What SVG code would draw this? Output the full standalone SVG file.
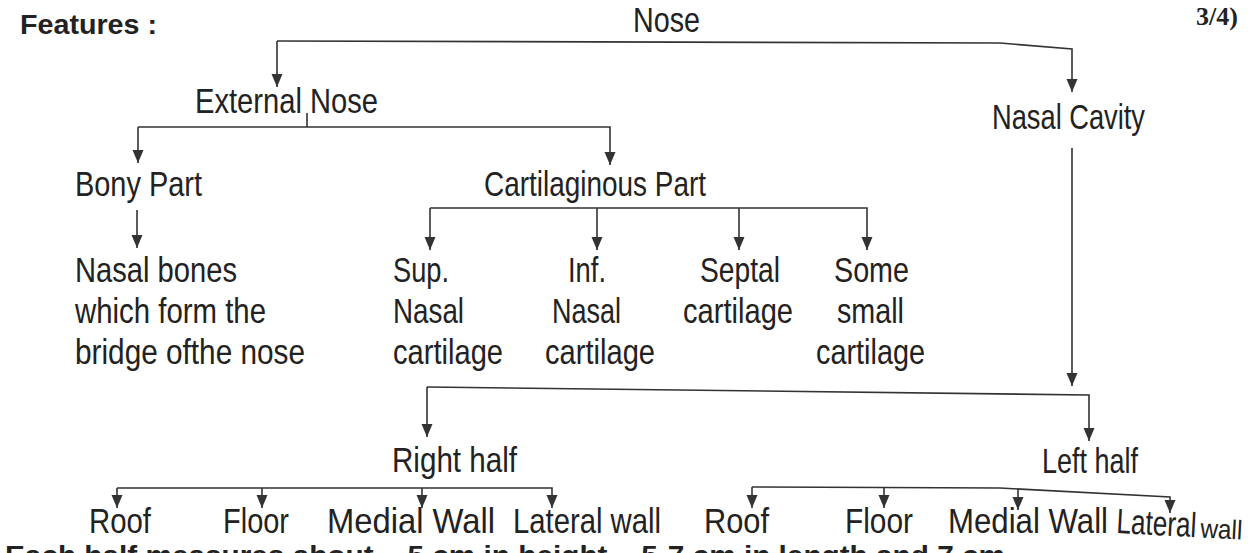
<svg xmlns="http://www.w3.org/2000/svg" width="1254" height="553" viewBox="0 0 1254 553">
<style>
.t{font-family:"Liberation Sans",Arial,sans-serif;font-size:35px;fill:#222}
.b{font-family:"Liberation Sans",Arial,sans-serif;font-weight:bold;font-size:28px;fill:#222}
.c{fill:none;stroke:#333;stroke-width:1.6}
</style>
<defs>
<marker id="ah" viewBox="0 -6 13 12" refX="13" refY="0" markerWidth="13" markerHeight="12" markerUnits="userSpaceOnUse" orient="auto">
<path d="M0,-5.5 L13,0 L0,5.5 z" fill="#333"/>
</marker>
</defs>
<rect width="1254" height="553" fill="#fff"/>
<g id="header">
<text class="b" x="20" y="34" textLength="137" lengthAdjust="spacingAndGlyphs">Features :</text>
<text x="1196" y="25" font-family="'Liberation Serif',serif" font-weight="bold" font-size="26" fill="#222">3/4)</text>
</g>
<g id="connectors">
<polyline class="c" points="277,41 1000,43 1072,49 1072,92" marker-end="url(#ah)"/>
<line class="c" x1="277" y1="41" x2="277" y2="87" marker-end="url(#ah)"/>
<polyline class="c" points="138,127 610,127 610,165" marker-end="url(#ah)"/>
<line class="c" x1="138" y1="127" x2="138" y2="163" marker-end="url(#ah)"/>
<line class="c" x1="307" y1="113" x2="307" y2="127"/>
<line class="c" x1="137" y1="210" x2="137" y2="248" marker-end="url(#ah)"/>
<polyline class="c" points="430,208 867,208 867,250" marker-end="url(#ah)"/>
<line class="c" x1="430" y1="208" x2="430" y2="250" marker-end="url(#ah)"/>
<line class="c" x1="597" y1="208" x2="597" y2="250" marker-end="url(#ah)"/>
<line class="c" x1="739" y1="208" x2="739" y2="250" marker-end="url(#ah)"/>
<line class="c" x1="1072" y1="148" x2="1072" y2="386" marker-end="url(#ah)"/>
<polyline class="c" points="427,387 1089,395 1089,441" marker-end="url(#ah)"/>
<line class="c" x1="427" y1="387" x2="427" y2="437" marker-end="url(#ah)"/>
<polyline class="c" points="117,488 552,488 552,508" marker-end="url(#ah)"/>
<line class="c" x1="117" y1="488" x2="117" y2="508" marker-end="url(#ah)"/>
<line class="c" x1="262" y1="488" x2="262" y2="508" marker-end="url(#ah)"/>
<line class="c" x1="422" y1="488" x2="422" y2="508" marker-end="url(#ah)"/>
<polyline class="c" points="752,487 1000,488 1170,497 1170,513" marker-end="url(#ah)"/>
<line class="c" x1="752" y1="487" x2="752" y2="508" marker-end="url(#ah)"/>
<line class="c" x1="884" y1="487" x2="884" y2="508" marker-end="url(#ah)"/>
<line class="c" x1="1018" y1="489" x2="1018" y2="510" marker-end="url(#ah)"/>
</g>
<g id="nose"><text class="t" x="633" y="32" textLength="67" lengthAdjust="spacingAndGlyphs">Nose</text></g>
<g id="external-nose"><text class="t" x="195" y="113" textLength="183" lengthAdjust="spacingAndGlyphs">External Nose</text></g>
<g id="nasal-cavity"><text class="t" x="992" y="129" textLength="153" lengthAdjust="spacingAndGlyphs">Nasal Cavity</text></g>
<g id="bony-part"><text class="t" x="75" y="196" textLength="127" lengthAdjust="spacingAndGlyphs">Bony Part</text></g>
<g id="cartilaginous-part"><text class="t" x="484" y="196" textLength="222" lengthAdjust="spacingAndGlyphs">Cartilaginous Part</text></g>
<g id="nasal-bones">
<text class="t" x="75" y="282" textLength="162" lengthAdjust="spacingAndGlyphs">Nasal bones</text>
<text class="t" x="75" y="323" textLength="191" lengthAdjust="spacingAndGlyphs">which form the</text>
<text class="t" x="75" y="364" textLength="230" lengthAdjust="spacingAndGlyphs">bridge ofthe nose</text>
</g>
<g id="sup-nasal">
<text class="t" x="393" y="282" textLength="56" lengthAdjust="spacingAndGlyphs">Sup.</text>
<text class="t" x="393" y="323" textLength="71" lengthAdjust="spacingAndGlyphs">Nasal</text>
<text class="t" x="393" y="364" textLength="110" lengthAdjust="spacingAndGlyphs">cartilage</text>
</g>
<g id="inf-nasal">
<text class="t" x="568" y="282" textLength="38" lengthAdjust="spacingAndGlyphs">Inf.</text>
<text class="t" x="552" y="323" textLength="69" lengthAdjust="spacingAndGlyphs">Nasal</text>
<text class="t" x="545" y="364" textLength="110" lengthAdjust="spacingAndGlyphs">cartilage</text>
</g>
<g id="septal">
<text class="t" x="700" y="282" textLength="80" lengthAdjust="spacingAndGlyphs">Septal</text>
<text class="t" x="683" y="323" textLength="110" lengthAdjust="spacingAndGlyphs">cartilage</text>
</g>
<g id="some-small">
<text class="t" x="834" y="282" textLength="75" lengthAdjust="spacingAndGlyphs">Some</text>
<text class="t" x="837" y="323" textLength="67" lengthAdjust="spacingAndGlyphs">small</text>
<text class="t" x="816" y="364" textLength="109" lengthAdjust="spacingAndGlyphs">cartilage</text>
</g>
<g id="right-half"><text class="t" x="392" y="472" textLength="125" lengthAdjust="spacingAndGlyphs">Right half</text></g>
<g id="left-half"><text class="t" x="1042" y="473" textLength="96" lengthAdjust="spacingAndGlyphs">Left half</text></g>
<g id="r-roof"><text class="t" x="89" y="533" textLength="62" lengthAdjust="spacingAndGlyphs">Roof</text></g>
<g id="r-floor"><text class="t" x="223" y="533" textLength="66" lengthAdjust="spacingAndGlyphs">Floor</text></g>
<g id="r-medial"><text class="t" x="327" y="533" textLength="168" lengthAdjust="spacingAndGlyphs">Medial Wall</text></g>
<g id="r-lateral"><text class="t" x="513" y="533" textLength="148" lengthAdjust="spacingAndGlyphs">Lateral wall</text></g>
<g id="l-roof"><text class="t" x="704" y="533" textLength="65" lengthAdjust="spacingAndGlyphs">Roof</text></g>
<g id="l-floor"><text class="t" x="845" y="533" textLength="68" lengthAdjust="spacingAndGlyphs">Floor</text></g>
<g id="l-medial"><text class="t" x="948" y="533" textLength="160" lengthAdjust="spacingAndGlyphs">Medial Wall</text></g>
<g id="l-lateral"><text class="t" x="1116" y="533" transform="rotate(3 1116 533)"><tspan textLength="80" lengthAdjust="spacingAndGlyphs">Lateral</tspan><tspan font-size="27" dx="4" textLength="42" lengthAdjust="spacingAndGlyphs">wall</tspan></text></g>
<g id="footer"><text class="b" x="5" y="565" textLength="1000" lengthAdjust="spacingAndGlyphs">Each half measures about ~ 5 cm in height ~ 5-7 cm in length and 7 cm</text></g>
</svg>
